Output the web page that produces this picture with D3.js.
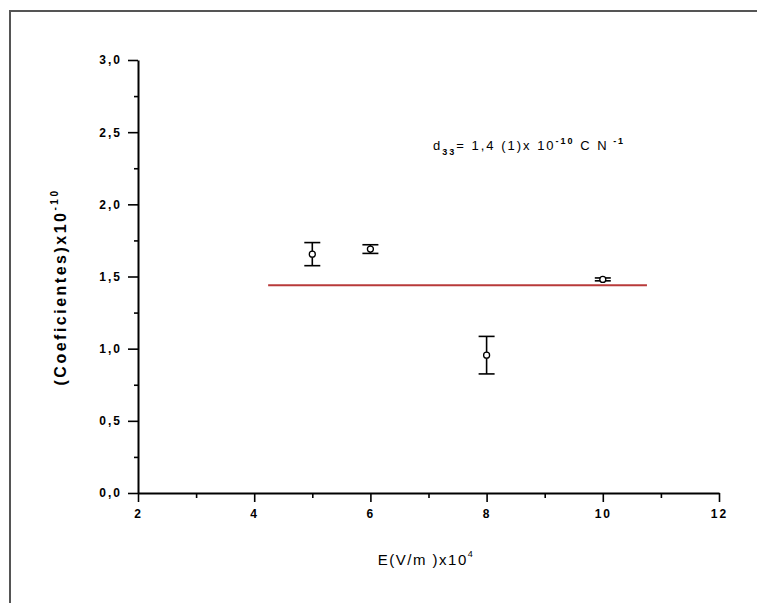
<!DOCTYPE html>
<html>
<head>
<meta charset="utf-8">
<script src="https://cdn.jsdelivr.net/npm/d3@7"></script>
<style>
  body { margin: 0; background: #fff; }
  text { font-family: "Liberation Sans", Arial, sans-serif; }
</style>
</head>
<body>
<div id="chart"></div>
<script>
var width = 757,
  height = 603;

// data
var fieldE = [5, 6, 8, 10];
var coef = [1.655, 1.69, 0.955, 1.48];
var coefErr = [0.08, 0.03, 0.13, 0.01];
var fitValue = 1.44;
var fitRange = [4.24, 10.76];
var xTicks = [2, 4, 6, 8, 10, 12];
var yTicks = [0, 0.5, 1.0, 1.5, 2.0, 2.5, 3.0];

var svg = d3.select( "#chart" )
  .append( "svg" )
  .attr( "width", width )
  .attr( "height", height );

// frame (top and left only)
svg.append( "path" )
  .attr( "d", "M10,603 L10,11 L757,11" )
  .attr( "fill", "none" )
  .attr( "stroke", "#555" )
  .attr( "stroke-width", 2 );

var x = d3.scaleLinear().domain( [2, 12] ).range( [138, 719] );
var y = d3.scaleLinear().domain( [0, 3] ).range( [493, 60] );

var fmt = function(d){ return d3.format( ".1f" )(d).replace( ".", "," ); };

// minor ticks
svg.append( "g" )
  .attr( "transform", "translate(0,493)" )
  .call( d3.axisBottom(x).tickValues( d3.range(3, 12, 2) ).tickSize(5).tickFormat( "" ) )
  .call( function(g){ g.select( ".domain" ).remove(); } );
svg.append( "g" )
  .attr( "transform", "translate(138,0)" )
  .call( d3.axisLeft(y).tickValues( d3.range(0.25, 3, 0.5) ).tickSize(4).tickFormat( "" ) )
  .call( function(g){ g.select( ".domain" ).remove(); } );

var xAxis = svg.append( "g" )
  .attr( "transform", "translate(0,493)" )
  .call( d3.axisBottom(x).tickValues( xTicks ).tickSize(9).tickSizeOuter(0).tickPadding(7) );
var yAxis = svg.append( "g" )
  .attr( "transform", "translate(138,0)" )
  .call( d3.axisLeft(y).tickValues( yTicks ).tickSize(10).tickSizeOuter(0).tickPadding(6).tickFormat( fmt ) );

svg.selectAll( ".domain" ).attr( "stroke-width", 2 );
svg.selectAll( ".tick line" ).attr( "stroke-width", 1.6 );
svg.selectAll( ".tick text" )
  .attr( "font-family", "\"DejaVu Sans\", sans-serif" )
  .attr( "font-weight", "bold" )
  .attr( "letter-spacing", 2 )
  .style( "font-size", "12px" );

// fit line
svg.append( "line" )
  .attr( "x1", x(fitRange[0]) )
  .attr( "x2", x(fitRange[1]) )
  .attr( "y1", y(fitValue) )
  .attr( "y2", y(fitValue) )
  .attr( "stroke", "#b83a3a" )
  .attr( "stroke-width", 2 );

// error bars
var pts = fieldE.map( function(d, i){ return {x: d, y: coef[i], e: coefErr[i]}; } );
var bars = svg.append( "g" ).attr( "stroke", "#000" ).attr( "stroke-width", 1.6 );
bars.selectAll( "line.v" )
  .data( pts ).enter().append( "line" )
  .attr( "x1", function(d){ return x(d.x); } )
  .attr( "x2", function(d){ return x(d.x); } )
  .attr( "y1", function(d){ return y(d.y - d.e); } )
  .attr( "y2", function(d){ return y(d.y + d.e); } );
bars.selectAll( "line.top" )
  .data( pts ).enter().append( "line" )
  .attr( "x1", function(d){ return x(d.x) - 8; } )
  .attr( "x2", function(d){ return x(d.x) + 8; } )
  .attr( "y1", function(d){ return y(d.y + d.e); } )
  .attr( "y2", function(d){ return y(d.y + d.e); } );
bars.selectAll( "line.bot" )
  .data( pts ).enter().append( "line" )
  .attr( "x1", function(d){ return x(d.x) - 8; } )
  .attr( "x2", function(d){ return x(d.x) + 8; } )
  .attr( "y1", function(d){ return y(d.y - d.e); } )
  .attr( "y2", function(d){ return y(d.y - d.e); } );

svg.append( "g" ).selectAll( "circle" )
  .data( pts ).enter().append( "circle" )
  .attr( "cx", function(d){ return x(d.x); } )
  .attr( "cy", function(d){ return y(d.y); } )
  .attr( "r", 3 )
  .attr( "fill", "#fff" )
  .attr( "stroke", "#000" )
  .attr( "stroke-width", 1.3 );

// axis titles
var yt = svg.append( "text" )
  .attr( "transform", "translate(66,287) rotate(-90)" )
  .attr( "text-anchor", "middle" )
  .attr( "font-size", 16 )
  .attr( "letter-spacing", 2.5 )
  .attr( "font-weight", "bold" );
yt.append( "tspan" ).text( "(Coeficientes)x10" );
yt.append( "tspan" ).attr( "dy", -8 ).attr( "font-size", 10 ).text( "-10" );

var xt = svg.append( "text" )
  .attr( "x", 426 )
  .attr( "y", 565 )
  .attr( "text-anchor", "middle" )
  .attr( "font-size", 15 )
  .attr( "letter-spacing", 1.5 );
xt.append( "tspan" ).text( "E(V/m )x10" );
xt.append( "tspan" ).attr( "dy", -8 ).attr( "font-size", 9 ).text( "4" );

// annotation
var ann = svg.append( "text" )
  .attr( "x", 433 )
  .attr( "y", 150 )
  .attr( "font-size", 13 )
  .attr( "letter-spacing", 2 );
ann.append( "tspan" ).text( "d" );
ann.append( "tspan" ).attr( "dy", 5 ).attr( "font-size", 9 ).attr( "font-weight", "bold" ).text( "33" );
ann.append( "tspan" ).attr( "dy", -5 ).text( "= 1,4 (1)x 10" );
ann.append( "tspan" ).attr( "dy", -6 ).attr( "font-size", 9 ).attr( "font-weight", "bold" ).text( "-10" );
ann.append( "tspan" ).attr( "dy", 6 ).text( " C N" );
ann.append( "tspan" ).attr( "dy", -6 ).attr( "font-size", 9 ).attr( "font-weight", "bold" ).text( " -1" );
</script>
</body>
</html>
